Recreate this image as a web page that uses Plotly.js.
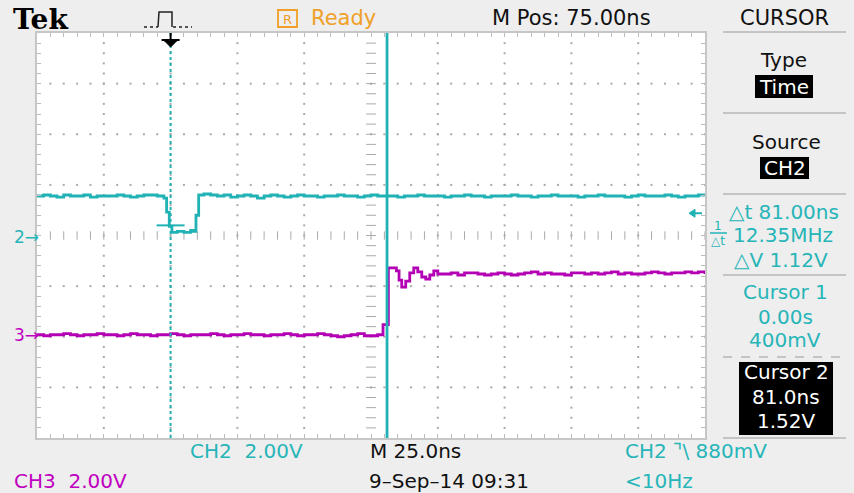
<!DOCTYPE html>
<html><head><meta charset="utf-8">
<script src="https://cdn.plot.ly/plotly-3.0.1.min.js"></script>
<style>html,body{margin:0;padding:0;background:#eeeeee;}</style>
</head><body><div id="chart" style="width:854px;height:493px;"></div>
<script>
// ---- data (time in ns, volts) ----
const ch2Time = [-50,-47.5,-45,-42.5,-40,-37.5,-35,-32.5,-30,-27.5,-25,-22.5,-20,-17.5,-15,-12.5,-10,-7.5,-5,-2.5,
  -1.5,-0.5,0.5,2.5,5,7.5,8.5,9.5,10.5,
  12.5,15,17.5,20,22.5,25,27.5,30,32.5,35,37.5,40,42.5,45,47.5,50,52.5,55,57.5,60,
  62.5,65,67.5,70,72.5,75,77.5,80,82.5,85,87.5,90,92.5,95,97.5,100,102.5,105,107.5,110,
  112.5,115,117.5,120,122.5,125,127.5,130,132.5,135,137.5,140,142.5,145,147.5,150,152.5,155,157.5,160,
  162.5,165,167.5,170,172.5,175,177.5,180,182.5,185,187.5,190,192.5,195,197.5,200];
const ch2Volts = [1.56,1.60,1.56,1.52,1.60,1.56,1.56,1.60,1.52,1.56,1.56,1.56,1.60,1.56,1.52,1.56,1.60,1.60,1.56,1.48,
  0.92,0.36,0.12,0.16,0.12,0.20,0.16,0.80,1.60,
  1.64,1.60,1.56,1.60,1.52,1.56,1.60,1.56,1.48,1.56,1.60,1.56,1.52,1.56,1.60,1.56,1.56,1.52,1.56,1.56,
  1.60,1.56,1.56,1.52,1.56,1.60,1.56,1.56,1.56,1.52,1.56,1.56,1.60,1.56,1.56,1.56,1.52,1.56,1.56,1.60,
  1.56,1.56,1.52,1.56,1.56,1.56,1.60,1.56,1.56,1.52,1.56,1.56,1.60,1.56,1.56,1.56,1.52,1.56,1.56,1.60,
  1.56,1.56,1.56,1.52,1.56,1.60,1.56,1.56,1.56,1.60,1.56,1.52,1.56,1.56,1.60,1.56];
const ch3Time = [-50,-47.5,-45,-42.5,-40,-37.5,-35,-32.5,-30,-27.5,-25,-22.5,-20,-17.5,-15,-12.5,-10,-7.5,-5,-2.5,
  0,2.5,5,7.5,10,12.5,15,17.5,20,22.5,25,27.5,30,32.5,35,37.5,40,42.5,45,47.5,
  50,52.5,55,57.5,60,62.5,65,67.5,70,72.5,75,77.5,
  79.5,80.5,81.5,82.5,84.5,85.5,86.5,88,89.5,91,92.5,94,95.5,97,98.5,100,
  102.5,105,107.5,110,112.5,115,117.5,120,122.5,125,127.5,130,132.5,135,137.5,140,142.5,145,147.5,150,
  152.5,155,157.5,160,162.5,165,167.5,170,172.5,175,177.5,180,182.5,185,187.5,190,192.5,195,197.5,200];
const ch3Volts = [0.08,0.04,0.08,0.08,0.12,0.08,0.04,0.08,0.08,0.12,0.08,0.08,0.04,0.08,0.12,0.08,0.08,0.04,0.08,0.08,
  0.12,0.08,0.04,0.08,0.08,0.08,0.12,0.08,0.04,0.08,0.08,0.12,0.08,0.08,0.04,0.08,0.08,0.12,0.08,0.04,
  0.08,0.08,0.12,0.08,0.04,0.00,0.04,0.08,0.12,0.04,0.04,0.08,
  0.48,0.48,2.72,2.72,2.60,2.24,1.96,2.20,2.52,2.72,2.56,2.36,2.28,2.44,2.60,2.48,
  2.48,2.52,2.44,2.52,2.52,2.48,2.44,2.48,2.52,2.48,2.44,2.48,2.52,2.56,2.48,2.52,2.48,2.48,2.44,2.52,
  2.52,2.48,2.52,2.48,2.52,2.56,2.48,2.52,2.48,2.48,2.52,2.56,2.52,2.48,2.52,2.52,2.56,2.52,2.56,2.48];
const voltsPerDiv = 2;
const ch2GroundDiv = 0;
const ch3GroundDiv = -2;
const cursor1Time = 0, cursor2Time = 81;
const cursor1Volts = 0.4;
const triggerTime = 0, triggerLevel = 0.88;
const xRange = [-50, 200], yRange = [-8, 8];

// ---- styles ----
const CYAN = '#20b2b4', CYAN_T = '#26b5b8', MAG = '#b400b4', MAG_T = '#c000c0', ORANGE = '#f0a028';
const GRID = '#a9a9a9', SEP = '#c4c4c4';
const FONT = 'DejaVu Sans, Verdana, sans-serif';
const L = 37, T = 33, W = 668, H = 405;
const X = p => (p - L) / W, Y = p => (T + H - p) / H;

// graticule decoration
const gx = [], gy = [];
for (let k = -25; k <= 175; k += 25) { if (k === 75) continue; for (let i = -19; i <= 19; i++) { gx.push(k); gy.push(i * 0.4); } }
for (const v of [-6, -4, -2, 2, 4, 6]) for (let i = -9; i <= 49; i++) { gx.push(i * 5); gy.push(v); }
const chx = [], chy = [], cvx = [], cvy = [];
for (let i = -9; i <= 49; i++) { chx.push(i * 5); chy.push(0); }
for (let i = -19; i <= 19; i++) { cvx.push(75); cvy.push(i * 0.4); }

const traces = [
  {x: gx, y: gy, mode: 'markers', marker: {symbol: 'square', size: 2, color: GRID}, hoverinfo: 'skip'},
  {x: chx, y: chy, mode: 'markers', marker: {symbol: 'line-ns', size: 6, line: {width: 1, color: GRID}}, hoverinfo: 'skip'},
  {x: cvx, y: cvy, mode: 'markers', marker: {symbol: 'line-ew', size: 7, line: {width: 1, color: GRID}}, hoverinfo: 'skip'},
  {x: ch3Time, y: ch3Volts.map(v => v + ch3GroundDiv * voltsPerDiv), mode: 'lines', line: {color: MAG, width: 2.8, shape: 'hv'}, name: 'CH3'},
  {x: ch2Time, y: ch2Volts.map(v => v + ch2GroundDiv * voltsPerDiv), mode: 'lines', line: {color: CYAN, width: 2.8, shape: 'hv'}, name: 'CH2'}
];

function A(text, x, y, o = {}) {
  return {xref: 'paper', yref: 'paper', x: X(x), y: Y(y), text, showarrow: false,
    xanchor: o.xa || 'center', yanchor: 'middle',
    font: {family: o.f || FONT, size: o.s || 20, color: o.c || '#111', weight: o.w || 'normal'}};
}
function lineP(x0, y0, x1, y1, color, width, dash) {
  return {type: 'line', xref: 'paper', yref: 'paper', x0: X(x0), y0: Y(y0), x1: X(x1), y1: Y(y1),
    line: {color, width, dash: dash || 'solid'}};
}
function rectP(x0, y0, x1, y1, fill) {
  return {type: 'rect', xref: 'paper', yref: 'paper', x0: X(x0), y0: Y(y0), x1: X(x1), y1: Y(y1),
    fillcolor: fill, line: {width: 0}};
}

const shapes = [
  // cursors
  {type: 'line', xref: 'x', yref: 'paper', x0: cursor1Time, x1: cursor1Time, y0: 0, y1: 1, line: {color: CYAN, width: 2, dash: 'dot'}},
  {type: 'line', xref: 'x', yref: 'paper', x0: cursor2Time, x1: cursor2Time, y0: 0, y1: 1, line: {color: CYAN, width: 2.8}},
  {type: 'line', xref: 'x', yref: 'y', xsizemode: 'pixel', xanchor: cursor1Time, x0: -14, x1: 14, y0: cursor1Volts, y1: cursor1Volts, line: {color: CYAN, width: 2}},
  // trigger position marker
  {type: 'path', xref: 'x', yref: 'paper', xsizemode: 'pixel', ysizemode: 'pixel', xanchor: triggerTime, yanchor: 1,
    path: 'M-6,-8 L6,-8 L0,-14 Z', fillcolor: '#000', line: {color: '#000', width: 1}},
  {type: 'path', xref: 'x', yref: 'paper', xsizemode: 'pixel', ysizemode: 'pixel', xanchor: triggerTime, yanchor: 1,
    path: 'M-9,-7 L9,-7 M0,0 L0,-8', line: {color: '#000', width: 2}},
  // trigger level marker (right edge)
  {type: 'path', xref: 'paper', yref: 'y', xsizemode: 'pixel', ysizemode: 'pixel', xanchor: 1, yanchor: triggerLevel,
    path: 'M-16,0 L-10,4 L-10,-4 Z', fillcolor: CYAN, line: {color: CYAN, width: 1}},
  {type: 'path', xref: 'paper', yref: 'y', xsizemode: 'pixel', ysizemode: 'pixel', xanchor: 1, yanchor: triggerLevel,
    path: 'M-11,0 L-3,0', line: {color: CYAN, width: 2}},
  // top-bar trigger glyph
  lineP(144, 27, 158, 27, '#222', 1.5, 'dot'),
  {type: 'path', xref: 'paper', yref: 'paper', path: `M${X(158)},${Y(27)} L${X(159)},${Y(12)} L${X(172)},${Y(12)} L${X(172)},${Y(27)}`, line: {color: '#222', width: 1.5}},
  lineP(173, 27, 192, 27, '#222', 1.5, 'dot'),
  // Ready box
  {type: 'rect', xref: 'paper', yref: 'paper', x0: X(278), x1: X(297), y0: Y(10), y1: Y(27), line: {color: ORANGE, width: 1.8}},
  // right panel separators
  lineP(723, 32, 846, 32, SEP, 2), lineP(723, 113, 846, 113, SEP, 2), lineP(723, 194, 846, 194, SEP, 2),
  lineP(723, 275, 846, 275, SEP, 2), lineP(723, 357, 846, 357, SEP, 2, 'dash'), lineP(723, 438, 846, 438, SEP, 2),
  // black boxes
  rectP(755, 75, 813, 98, '#000'), rectP(760, 157, 809, 179, '#000'), rectP(739, 362, 833, 435, '#000'),
  // 1/dt fraction bar
  lineP(710, 233, 727, 233, CYAN_T, 1.5)
];

const ann = [
  A('Tek', 11, 19, {xa: 'left', f: 'DejaVu Serif, serif', s: 28, w: 'bold', c: '#000'}),
  A('R', 287.5, 19, {s: 13, c: ORANGE}),
  A('Ready', 309, 18, {xa: 'left', s: 21, c: ORANGE}),
  A('M Pos: 75.00ns', 571, 18, {s: 21}),
  A('CURSOR', 784, 18, {s: 21}),
  A('Type', 783, 60),
  A('Time', 784, 87, {c: '#fff'}),
  A('Source', 786, 142),
  A('CH2', 785, 168, {c: '#fff'}),
  A('△t 81.00ns', 784, 212, {c: CYAN_T}),
  A('1', 718, 226, {s: 12, c: CYAN_T}),
  A('△t', 718, 241, {s: 12, c: CYAN_T}),
  A('12.35MHz', 731, 235, {xa: 'left', c: CYAN_T}),
  A('△V 1.12V', 781, 260, {c: CYAN_T}),
  A('Cursor 1', 785, 292, {c: CYAN_T}),
  A('0.00s', 785, 317, {c: CYAN_T}),
  A('400mV', 785, 340, {c: CYAN_T}),
  A('Cursor 2', 786, 372, {c: '#fff'}),
  A('81.0ns', 786, 397, {c: '#fff'}),
  A('1.52V', 786, 421, {c: '#fff'}),
  A('2→', 12, 237, {xa: 'left', s: 17, c: CYAN_T}),
  A('3→', 12, 335, {xa: 'left', s: 17, c: MAG_T}),
  A('CH2  2.00V', 188, 451, {xa: 'left', c: CYAN_T}),
  A('M 25.0ns', 368, 451, {xa: 'left'}),
  A('CH2 ⌝\\ 880mV', 623, 451, {xa: 'left', c: CYAN_T}),
  A('CH3  2.00V', 12, 481, {xa: 'left', c: MAG_T}),
  A('9–Sep–14 09:31', 367, 481, {xa: 'left'}),
  A('<10Hz', 623, 481, {xa: 'left', c: CYAN_T})
];

const axisBase = {showgrid: false, zeroline: false, showline: true, linecolor: '#c6c6c6', linewidth: 2,
  mirror: 'ticks', ticks: 'inside', ticklen: 4, tickwidth: 1, tickcolor: '#bdbdbd', showticklabels: false, fixedrange: true};

const layout = {
  width: 854, height: 493,
  margin: {l: L, r: 854 - L - W, t: T, b: 493 - T - H, pad: 0},
  paper_bgcolor: '#eeeeee', plot_bgcolor: '#ffffff',
  showlegend: false,
  xaxis: Object.assign({}, axisBase, {range: xRange, tick0: -50, dtick: 5}),
  yaxis: Object.assign({}, axisBase, {range: yRange, tick0: -8, dtick: 0.4}),
  shapes, annotations: ann
};
Plotly.newPlot('chart', traces, layout, {staticPlot: true, displayModeBar: false});
</script>
</body></html>
